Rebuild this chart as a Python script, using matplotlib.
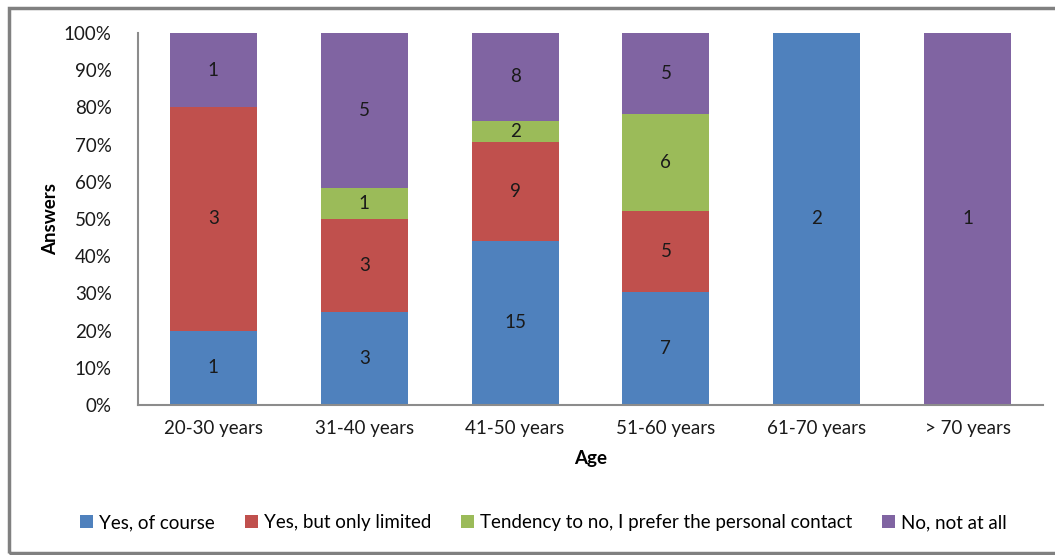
import matplotlib.pyplot as plt
import numpy as np
from matplotlib.patches import Rectangle

plt.rcParams["font.family"] = ["Lato", "DejaVu Sans"]

# data: answer counts per age group
ages = ["20-30 years", "31-40 years", "41-50 years", "51-60 years", "61-70 years", "> 70 years"]
answers = ["Yes, of course", "Yes, but only limited",
           "Tendency to no, I prefer the personal contact", "No, not at all"]
yes_course = [1, 3, 15, 7, 2, 0]
yes_limited = [3, 3, 9, 5, 0, 0]
tendency_no = [0, 1, 2, 6, 0, 0]
no_not_at_all = [1, 5, 8, 5, 0, 1]
colors = ["#4F81BD", "#C0504D", "#9BBB59", "#8064A2"]

counts = np.array([yes_course, yes_limited, tendency_no, no_not_at_all], dtype=float)
shares = counts / counts.sum(axis=0) * 100

fs = 13.5
fig = plt.figure(figsize=(10.55, 5.55), dpi=100)
ax = fig.add_axes([138 / 1055, 150 / 555, 905 / 1055, 372 / 555])

x = np.arange(len(ages))
bottom = np.zeros(len(ages))
for i, name in enumerate(answers):
    bars = ax.bar(x, shares[i], bottom=bottom, width=0.577, color=colors[i], label=name)
    for j, b in enumerate(bars):
        if counts[i, j] > 0:
            ax.text(b.get_x() + b.get_width() / 2, bottom[j] + shares[i, j] / 2,
                    f"{int(counts[i, j])}", ha="center", va="center",
                    fontsize=fs, color="#1a1a1a")
    bottom += shares[i]

ax.set_xlim(-0.5, len(ages) - 0.5)
ax.set_ylim(0, 100)
ax.set_yticks(np.arange(0, 101, 10))
ax.set_yticklabels([f"{v}%" for v in range(0, 101, 10)])
ax.set_xticks(x)
ax.set_xticklabels(ages)
ax.tick_params(length=0, labelsize=fs, colors="#1a1a1a")
ax.tick_params(axis="y", pad=19)
ax.tick_params(axis="x", pad=11)
for s in ["top", "right"]:
    ax.spines[s].set_visible(False)
for s in ["left", "bottom"]:
    ax.spines[s].set_color("#8c8c8c")
    ax.spines[s].set_linewidth(1.5)

ax.set_xlabel("Age", fontsize=fs, fontweight="bold", labelpad=9)
ax.set_ylabel("Answers", fontsize=fs, fontweight="bold", labelpad=3)

fig.legend(loc="center", bbox_to_anchor=(0.515, 0.058), ncol=4, frameon=False,
           fontsize=fs, handlelength=0.7, handleheight=0.7, handletextpad=0.3,
           columnspacing=1.6)

# outer frame
fig.patches.append(Rectangle((9 / 1055, 2 / 555), 1.1, 545 / 555, transform=fig.transFigure,
                             fill=False, edgecolor="#808080", linewidth=2.5))

fig.savefig("out.png", dpi=100)
